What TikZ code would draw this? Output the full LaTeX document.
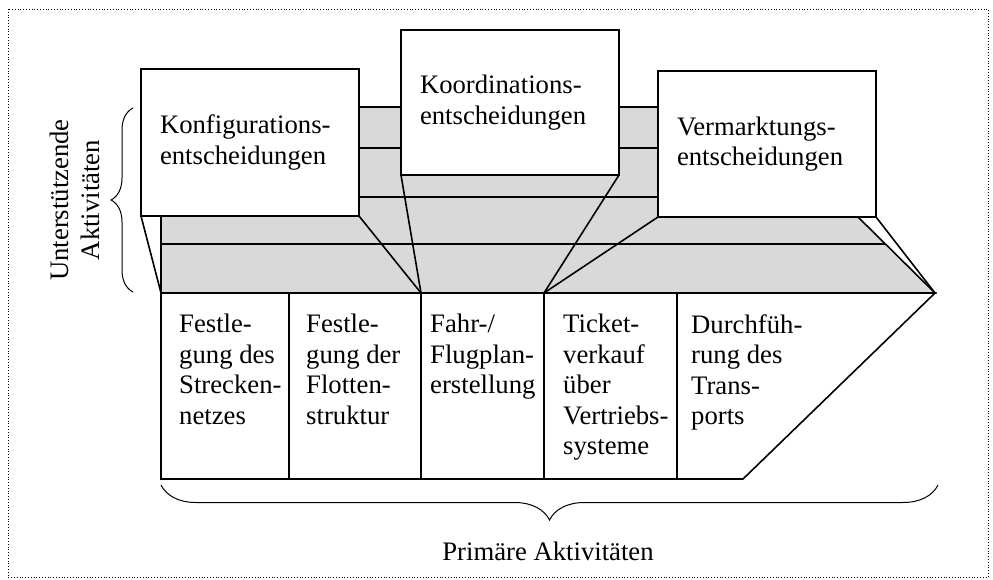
\documentclass[tikz,border=0pt]{standalone}
\usepackage{fontspec}
\setmainfont{Liberation Serif}
\usetikzlibrary{calc}
\usetikzlibrary{positioning}
\usetikzlibrary{decorations.pathreplacing}

\begin{document}
\begin{tikzpicture}[x=1pt, y=-1pt,
    every node/.style={font=\fontsize{26.7}{30.5}\selectfont},
    decision/.style={rectangle, draw=black, line width=2pt, fill=white, text width=180pt, inner xsep=19pt, inner ysep=0pt, outer sep=0pt, align=left, anchor=north west},
    activity/.style={inner sep=0pt, anchor=north west, align=left},
    layer/.style={line width=1.6pt},
    bracket/.style={decorate, decoration={brace, amplitude=#1}, line width=1pt}]
    \useasboundingbox (0,0) rectangle (993,580);
    \draw [dotted, line width=0.8pt] (8,9) rectangle (988,577);

    % unterstuetzende Aktivitaeten
    \draw [layer, fill=black!15] (161,107) -- (858,107) -- (858,217) -- (935,293) -- (161,293) -- cycle;
    \draw [layer] (161,148) -- (858,148);
    \draw [layer] (161,197) -- (858,197);
    \draw [layer] (161,244) -- (885,244);

    % primaere Aktivitaeten
    \coordinate (p1) at (161,293);
    \coordinate (p2) at (289,293);
    \coordinate (p3) at (421,293);
    \coordinate (p4) at (544,293);
    \coordinate (p5) at (677,293);
    \coordinate (p6) at (935,293);
    \coordinate (q6) at (743,479);
    \draw [layer, fill=white] (p1) -- (p6) -- (q6) -- (p1 |- q6) -- cycle;
    \foreach \p in {p2, p3, p4, p5}
        \draw [layer] (\p) -- (\p |- q6);

    \node [activity] (streckennetz) at (179,314) {Festle-\\gung des\\Strecken-\\netzes};
    \node [activity] (flotte) at (306,314) {Festle-\\gung der\\Flotten-\\struktur};
    \node [activity] (flugplan) at (430,314) {Fahr-/\\Flugplan-\\erstellung};
    \node [activity] (ticket) at (563,314) {Ticket-\\verkauf\\über\\Vertriebs-\\systeme};
    \node [activity] (transport) at (691,314) {Durchfüh-\\rung des\\Trans-\\ports};

    % Entscheidungen
    \node [decision, minimum height=147pt] (konfig) at (141,69) {Konfigurations-\\entscheidungen};
    \node [decision, minimum height=145pt] (koord) at (401,30) {Koordinations-\\entscheidungen};
    \node [decision, minimum height=146pt] (vermarkt) at (658,71) {Vermarktungs-\\entscheidungen};

    \draw [layer] (konfig.south west) -- (p1);
    \draw [layer] (konfig.south east) -- (p3);
    \draw [layer] (koord.south west) -- (p3);
    \draw [layer] (koord.south east) -- (p4);
    \draw [layer] (vermarkt.south west) -- (p4);
    \draw [layer] (vermarkt.south east) -- (p6);

    % Klammern
    \coordinate (b1) at (133,292);
    \coordinate (b2) at (133,108);
    \draw [bracket=22pt] (b1) -- (b2);
    \node [rotate=90, align=center] (support) at (75,200) {Unterstützende\\Aktivitäten};

    \coordinate (b3) at (938,485);
    \coordinate (b4) at (161,485);
    \draw [bracket=35pt] (b3) -- (b4);
    \node (primary) at (548,551) {Primäre Aktivitäten};
\end{tikzpicture}
\end{document}
